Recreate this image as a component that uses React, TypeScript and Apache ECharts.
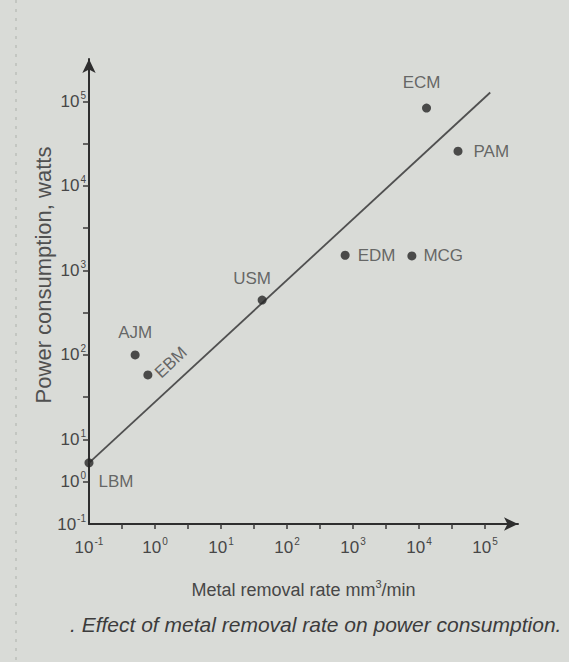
import React, { useEffect, useRef } from "react";
import * as echarts from "echarts";

// ---- data ----
const processes = ["LBM", "AJM", "EBM", "USM", "EDM", "MCG", "ECM", "PAM"];
const removalRate = [0.1, 0.5, 0.78, 42, 760, 7800, 13000, 39000]; // mm^3/min
const powerWatts = [2.8, 100, 58, 445, 1510, 1480, 83000, 25700]; // watts
const trendRate = [0.1, 120000];
const trendPower = [2.8, 127000];
const xTickExponents = [-1, 0, 1, 2, 3, 4, 5];
const yTickExponents = [-1, 0, 1, 2, 3, 4, 5];

// axis scale of the figure: x is uniformly logarithmic; on y the decades
// below 10^1 are drawn at half the height of the decades above it
const ux = (v: number) => Math.log10(v) + 1;
const uy = (v: number) => {
  const l = Math.log10(v);
  return l <= 1 ? l + 1 : 2 + 2 * (l - 1);
};

const FONT = "'Liberation Sans', Arial, sans-serif";
const TXT = "#474747";

const labelStyle: Record<string, any> = {
  LBM: { position: "right", distance: 5, offset: [0, 19] },
  AJM: { position: "top", distance: 9 },
  EBM: { position: "right", distance: 5, rotate: 43 },
  USM: { position: "top", distance: 9, offset: [-10, 0] },
  EDM: { position: "right", distance: 8 },
  MCG: { position: "right", distance: 7 },
  ECM: { position: "top", distance: 13, offset: [-5, 0] },
  PAM: { position: "right", distance: 11 },
};

const richSup = {
  b: { fontSize: 17, fontFamily: FONT, color: TXT },
  s: { fontSize: 10, fontFamily: FONT, color: TXT, padding: [0, 0, 12, 1] },
};

export default function App() {
  const ref = useRef<HTMLDivElement>(null);
  useEffect(() => {
    if (!ref.current) return;
    const chart = echarts.init(ref.current, null, { renderer: "svg" });
    const xLabelPos: Record<string, number> = {};
    xTickExponents.forEach((e) => (xLabelPos[String(ux(Math.pow(10, e)))] = e));
    const yLabelPos: Record<string, number> = {};
    yTickExponents.forEach((e) => (yLabelPos[String(uy(Math.pow(10, e)))] = e));

    const option: any = {
      animation: false,
      backgroundColor: "transparent",
      grid: { left: 89, top: 59, width: 429, height: 465, containLabel: false },
      xAxis: {
        type: "value",
        min: 0,
        max: 6.5,
        splitLine: { show: false },
        axisLine: {
          lineStyle: { color: "#2e2e2e", width: 2 },
          symbol: ["none", "arrow"],
          symbolSize: [10, 14],
        },
        axisTick: {
          customValues: [0.5, 1, 1.5, 2, 2.5, 3, 3.5, 4, 4.5, 5, 5.5, 6],
          length: 5,
          lineStyle: { color: "#3a3a3a", width: 1.5 },
        },
        axisLabel: {
          customValues: xTickExponents.map((e) => ux(Math.pow(10, e))),
          margin: 12,
          formatter: (v: number) => {
            const e = xLabelPos[String(v)];
            return "{b|10}{s|" + e + "}";
          },
          rich: richSup,
        },
        name: "Metal removal rate mm{s|3}/min",
        nameLocation: "middle",
        nameGap: 54,
        nameTextStyle: {
          fontSize: 18,
          fontFamily: FONT,
          color: TXT,
          rich: {
            s: { fontSize: 11, fontFamily: FONT, color: TXT, padding: [0, 0, 12, 0] },
          },
        },
      },
      yAxis: {
        type: "value",
        min: 0,
        max: 11,
        splitLine: { show: false },
        axisLine: {
          lineStyle: { color: "#2e2e2e", width: 2 },
          symbol: ["none", "arrow"],
          symbolSize: [10, 14],
        },
        axisTick: {
          customValues: [1, 2, 3, 4, 5, 6, 7, 8, 9, 10],
          length: 6,
          lineStyle: { color: "#3a3a3a", width: 1.5 },
        },
        axisLabel: {
          customValues: yTickExponents.map((e) => uy(Math.pow(10, e))),
          margin: 3,
          formatter: (v: number) => {
            const e = yLabelPos[String(v)];
            return "{b|10}{s|" + e + "}";
          },
          rich: richSup,
        },
      },
      graphic: [
        {
          type: "line",
          shape: { x1: 16, y1: 0, x2: 16, y2: 662 },
          style: { stroke: "#c3c6c1", lineWidth: 2, lineDash: [3, 6] },
          silent: true,
        },
        {
          type: "text",
          x: 43,
          y: 275,
          rotation: Math.PI / 2,
          style: {
            text: "Power consumption, watts",
            fontSize: 22,
            fontFamily: FONT,
            fill: "#505050",
            align: "center",
            verticalAlign: "middle",
          },
        },
        {
          type: "text",
          x: 70,
          y: 624,
          style: {
            text: ". Effect of metal removal rate on power consumption.",
            fontSize: 21,
            fontStyle: "italic",
            fontFamily: FONT,
            fill: "#3c3c3c",
            align: "left",
            verticalAlign: "middle",
          },
        },
      ],
      series: [
        {
          type: "line",
          data: trendRate.map((r, i) => [ux(r), uy(trendPower[i])]),
          symbol: "none",
          lineStyle: { color: "#505050", width: 1.8 },
          z: 1,
          silent: true,
        },
        {
          type: "scatter",
          symbolSize: 9,
          itemStyle: { color: "#262626" },
          z: 3,
          data: processes.map((p, i) => ({
            name: p,
            value: [ux(removalRate[i]), uy(powerWatts[i])],
            label: {
              show: true,
              formatter: p,
              fontSize: 17,
              fontFamily: FONT,
              color: TXT,
              ...labelStyle[p],
            },
          })),
        },
      ],
    };
    chart.setOption(option);
    return () => chart.dispose();
  }, []);

  return (
    <div
      style={{
        position: "fixed",
        left: 0,
        top: 0,
        width: 569,
        height: 662,
        background: "#d9dbd7",
      }}
    >
      <div ref={ref} style={{ width: 569, height: 662 }} />
    </div>
  );
}
